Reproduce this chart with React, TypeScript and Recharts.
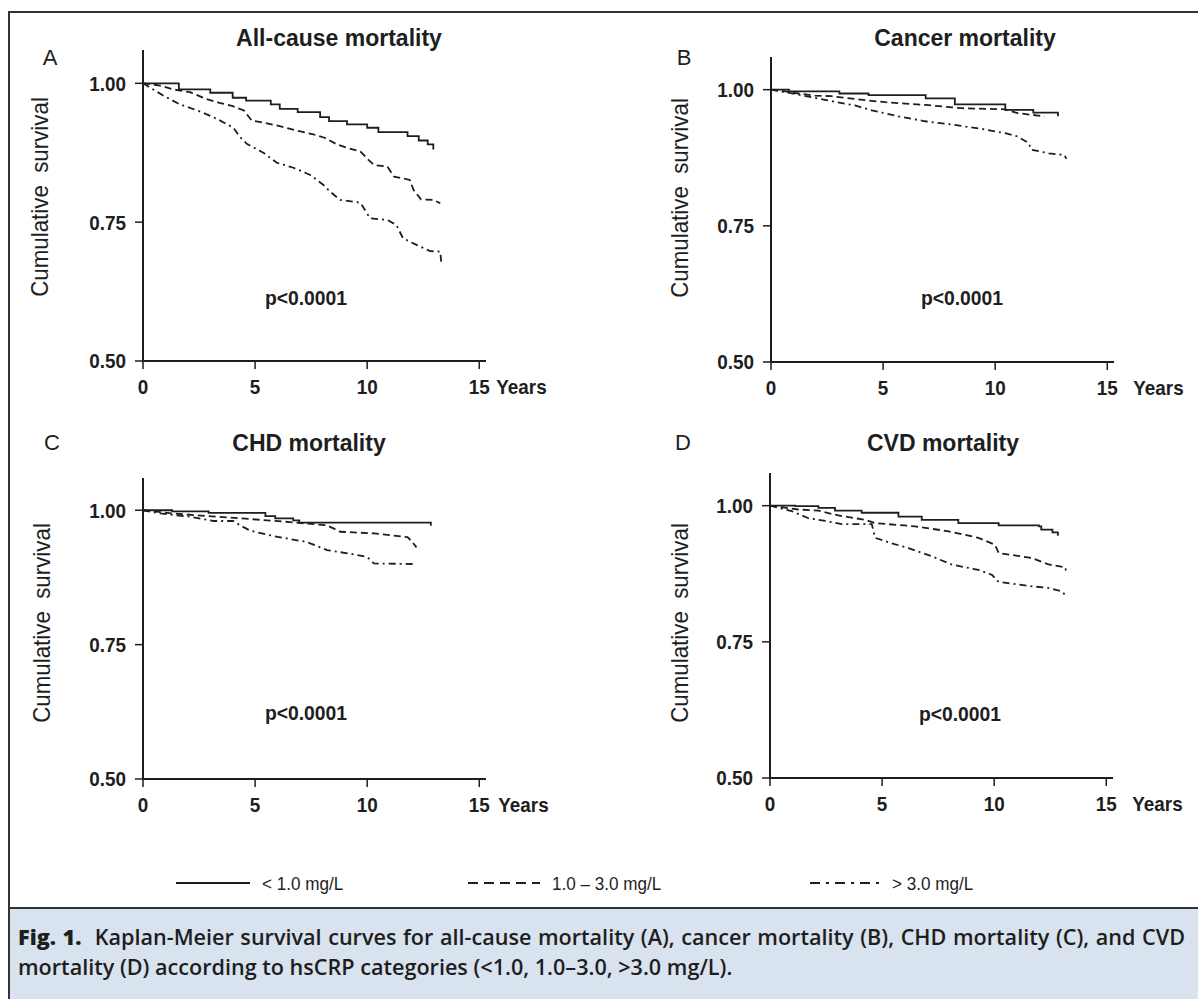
import React from 'react';
import { LineChart, Line, XAxis, YAxis } from 'recharts';

type Pair = [number, number];

// survival estimates, [years, cumulative survival]
const allCauseLow: Pair[] = [[0, 1.0], [1.6, 0.989], [3.0, 0.983], [4.0, 0.974], [4.6, 0.969], [5.7, 0.962], [6.1, 0.954], [6.9, 0.948], [7.9, 0.939], [8.3, 0.932], [9.1, 0.926], [10.0, 0.92], [10.5, 0.912], [11.8, 0.905], [12.3, 0.897], [12.7, 0.89], [12.95, 0.881]];
const allCauseMid: Pair[] = [[0, 1.0], [0.76, 0.996], [1.35, 0.989], [2.1, 0.984], [2.8, 0.972], [3.4, 0.965], [4.0, 0.959], [4.5, 0.951], [4.85, 0.933], [5.4, 0.929], [6.1, 0.923], [6.86, 0.915], [7.6, 0.908], [8.1, 0.902], [8.65, 0.89], [9.1, 0.884], [9.7, 0.877], [10.06, 0.862], [10.3, 0.853], [10.9, 0.85], [11.2, 0.832], [11.9, 0.826], [12.07, 0.808], [12.4, 0.791], [12.96, 0.79], [13.26, 0.784]];
const allCauseHigh: Pair[] = [[0, 1.0], [0.9, 0.978], [1.65, 0.962], [2.5, 0.95], [3.3, 0.936], [4.03, 0.92], [4.33, 0.903], [4.63, 0.891], [5.37, 0.875], [5.97, 0.857], [6.71, 0.848], [7.46, 0.835], [8.05, 0.817], [8.35, 0.805], [8.79, 0.79], [9.7, 0.785], [10.13, 0.757], [10.9, 0.754], [11.3, 0.745], [11.6, 0.721], [12.2, 0.709], [12.8, 0.698], [13.26, 0.697], [13.3, 0.679]];

const cancerLow: Pair[] = [[0, 1.0], [0.8, 0.997], [3.05, 0.993], [4.35, 0.99], [6.9, 0.984], [8.2, 0.973], [10.45, 0.963], [11.7, 0.958], [12.8, 0.951]];
const cancerMid: Pair[] = [[0, 1.0], [0.63, 0.997], [1.22, 0.993], [1.96, 0.989], [2.7, 0.988], [4.35, 0.98], [5.1, 0.977], [6.9, 0.972], [8.5, 0.966], [10.45, 0.964], [11.0, 0.957], [12.2, 0.951]];
const cancerHigh: Pair[] = [[0, 1.0], [1.2, 0.991], [2.7, 0.979], [3.75, 0.971], [4.5, 0.962], [5.7, 0.951], [6.87, 0.942], [8.06, 0.936], [9.4, 0.928], [10.45, 0.92], [11.0, 0.914], [11.5, 0.902], [11.6, 0.89], [12.4, 0.883], [13.1, 0.88], [13.17, 0.873]];

const chdLow: Pair[] = [[0, 1.0], [1.3, 0.998], [2.93, 0.995], [5.46, 0.989], [5.9, 0.985], [6.7, 0.981], [6.97, 0.977], [12.2, 0.977], [12.84, 0.971]];
const chdMid: Pair[] = [[0, 1.0], [1.35, 0.994], [2.9, 0.989], [4.35, 0.985], [6.56, 0.978], [8.2, 0.972], [8.8, 0.96], [10.3, 0.957], [11.8, 0.95], [11.95, 0.944], [12.2, 0.931]];
const chdHigh: Pair[] = [[0, 1.0], [0.76, 0.994], [2.1, 0.988], [3.14, 0.98], [4.03, 0.98], [4.33, 0.972], [4.78, 0.962], [5.82, 0.952], [7.3, 0.941], [8.2, 0.926], [9.4, 0.918], [10.0, 0.913], [10.3, 0.901], [12.07, 0.9]];

const cvdLow: Pair[] = [[0, 1.0], [1.12, 0.999], [2.16, 0.996], [2.9, 0.991], [4.09, 0.987], [5.73, 0.98], [6.77, 0.974], [8.4, 0.968], [10.2, 0.964], [12.0, 0.962], [12.1, 0.956], [12.6, 0.951], [12.84, 0.945]];
const cvdMid: Pair[] = [[0, 1.0], [1.26, 0.993], [2.16, 0.991], [3.05, 0.982], [4.24, 0.974], [4.69, 0.968], [6.47, 0.962], [7.96, 0.953], [9.3, 0.941], [10.04, 0.928], [10.2, 0.913], [11.68, 0.904], [12.43, 0.892], [13.17, 0.887], [13.2, 0.881]];
const cvdHigh: Pair[] = [[0, 1.0], [0.97, 0.99], [1.71, 0.977], [2.46, 0.972], [3.2, 0.966], [4.54, 0.966], [4.69, 0.941], [5.43, 0.931], [6.18, 0.922], [7.22, 0.907], [8.1, 0.892], [9.3, 0.882], [9.9, 0.873], [10.2, 0.86], [11.68, 0.852], [12.4, 0.849], [13.0, 0.843], [13.25, 0.833]];

const xTicks = [0, 5, 10, 15];
const yTicks = [0.5, 0.75, 1.0];
const groupLabels = ['< 1.0 mg/L', '1.0 – 3.0 mg/L', '> 3.0 mg/L'];

// no narrow fonts installed, so Arial-metric text squeezed horizontally
const SANS = "'Liberation Sans', Arial, sans-serif";
const CAPTION = "'Open Sans', 'DejaVu Sans Condensed', sans-serif";
const INK = '#1e1e1e';
const DASH = '7 4';
const DASHDOT = '7 4 2 4';
const SQUEEZE = 0.9;

const toPts = (arr: Pair[]) => arr.map(([t, s]) => ({ t, s }));

const PLOT_W = 343;
const Y_W = 60;
const RIGHT = 90;

interface PanelProps {
  letter: string;
  title: string;
  low: Pair[];
  mid: Pair[];
  high: Pair[];
  plotLeft: number;
  plotTop: number;
  plotH: number;
  titlePos: [number, number];
  letterPos: [number, number];
  yLabelPos: [number, number];
  pPos: [number, number];
  yearsDx: number;
}

const centered = (x: number, y: number): React.CSSProperties => ({
  position: 'absolute',
  left: x,
  top: y,
  transform: 'translate(-50%, -50%)',
  whiteSpace: 'nowrap',
  lineHeight: 1,
  color: INK,
});

const tickText = { fill: INK, fontFamily: SANS, fontWeight: 'bold' as const, fontSize: 21 };

function YTick(props: any) {
  const { x, y, payload } = props;
  return (
    <text transform={`translate(${x},${y}) scale(${SQUEEZE},1)`} dy="0.355em" textAnchor="end" {...tickText}>
      {Number(payload.value).toFixed(2)}
    </text>
  );
}

function Panel(p: PanelProps) {
  const XTick = (props: any) => {
    const { x, y, payload } = props;
    return (
      <g>
        <text transform={`translate(${x},${y}) scale(${SQUEEZE},1)`} dy="0.71em" textAnchor="middle" {...tickText}>
          {payload.value}
        </text>
        {payload.value === 15 && (
          <text transform={`translate(${x + p.yearsDx},${y}) scale(${SQUEEZE},1)`} dy="0.71em" textAnchor="start" {...tickText}>
            Years
          </text>
        )}
      </g>
    );
  };

  return (
    <>
      <div style={{ ...centered(p.titlePos[0], p.titlePos[1]), fontFamily: SANS, fontWeight: 'bold', fontSize: 23 }}>{p.title}</div>
      <div style={{ ...centered(p.letterPos[0], p.letterPos[1]), fontFamily: SANS, fontSize: 22 }}>{p.letter}</div>
      <div style={{ ...centered(p.yLabelPos[0], p.yLabelPos[1]), transform: 'translate(-50%, -50%) rotate(-90deg) scaleX(0.93)', fontFamily: SANS, fontSize: 24 }}>
        Cumulative&nbsp; survival
      </div>
      <div style={{ ...centered(p.pPos[0], p.pPos[1]), transform: 'translate(-50%, -50%) scaleX(0.92)', fontFamily: SANS, fontWeight: 'bold', fontSize: 21 }}>p&lt;0.0001</div>
      <div style={{ position: 'absolute', left: p.plotLeft - Y_W, top: p.plotTop - 5 }}>
        <LineChart width={Y_W + PLOT_W + RIGHT} height={5 + p.plotH + 45} margin={{ top: 5, right: RIGHT, bottom: 0, left: 0 }}>
          <XAxis
            type="number"
            dataKey="t"
            domain={[0, 15.3]}
            ticks={xTicks}
            allowDataOverflow
            height={45}
            axisLine={{ stroke: INK, strokeWidth: 2 }}
            tickLine={{ stroke: INK, strokeWidth: 1.5 }}
            tickSize={8}
            tickMargin={10}
            tick={XTick}
          />
          <YAxis
            type="number"
            domain={[0.5, 1.06]}
            ticks={yTicks}
            allowDataOverflow
            width={Y_W}
            axisLine={{ stroke: INK, strokeWidth: 2 }}
            tickLine={{ stroke: INK, strokeWidth: 1.5 }}
            tickSize={8}
            tickMargin={9}
            tick={YTick}
          />
          <Line data={toPts(p.low)} dataKey="s" type="stepAfter" stroke={INK} strokeWidth={1.8} dot={false} isAnimationActive={false} />
          <Line data={toPts(p.mid)} dataKey="s" type="linear" stroke={INK} strokeWidth={1.8} strokeDasharray={DASH} dot={false} isAnimationActive={false} />
          <Line data={toPts(p.high)} dataKey="s" type="linear" stroke={INK} strokeWidth={1.8} strokeDasharray={DASHDOT} dot={false} isAnimationActive={false} />
        </LineChart>
      </div>
    </>
  );
}

function LegendRow() {
  const items = [
    { x1: 176, x2: 250, dash: undefined as string | undefined, label: groupLabels[0] },
    { x1: 468, x2: 540, dash: '10 6', label: groupLabels[1] },
    { x1: 810, x2: 880, dash: '10 6 3 6', label: groupLabels[2] },
  ];
  return (
    <>
      <svg style={{ position: 'absolute', left: 0, top: 868 }} width={1198} height={30}>
        {items.map((it) => (
          <line key={it.label} x1={it.x1} x2={it.x2} y1={15} y2={15} stroke={INK} strokeWidth={2.2} strokeDasharray={it.dash} />
        ))}
      </svg>
      {items.map((it) => (
        <div
          key={it.label}
          style={{
            position: 'absolute',
            left: it.x2 + 12,
            top: 883,
            transform: 'translateY(-50%) scaleX(0.9)',
            transformOrigin: 'left center',
            whiteSpace: 'nowrap',
            lineHeight: 1,
            fontFamily: SANS,
            fontSize: 19,
            color: INK,
          }}
        >
          {it.label}
        </div>
      ))}
    </>
  );
}

export default function App() {
  return (
    <div style={{ position: 'absolute', left: 0, top: 0, width: 1198, height: 999, overflow: 'hidden', background: '#fff' }}>
      <div style={{ position: 'absolute', left: 10, top: 907, width: 1200, height: 100, background: '#d9e2ef', borderTop: '2px solid #333' }} />
      <div style={{ position: 'absolute', left: 8, top: 11, width: 1220, height: 1020, border: '2px solid #333', boxSizing: 'border-box' }} />

      <Panel letter="A" title="All-cause mortality" low={allCauseLow} mid={allCauseMid} high={allCauseHigh}
        plotLeft={143} plotTop={50} plotH={311} titlePos={[339, 38]} letterPos={[50, 58]} yLabelPos={[40, 197]} pPos={[306, 297]} yearsDx={17} />
      <Panel letter="B" title="Cancer mortality" low={cancerLow} mid={cancerMid} high={cancerHigh}
        plotLeft={771} plotTop={57} plotH={305} titlePos={[965, 38]} letterPos={[684, 58]} yLabelPos={[680, 198]} pPos={[962, 297]} yearsDx={26} />
      <Panel letter="C" title="CHD mortality" low={chdLow} mid={chdMid} high={chdHigh}
        plotLeft={143} plotTop={478} plotH={301} titlePos={[309, 443]} letterPos={[52, 443]} yLabelPos={[42, 623]} pPos={[306, 712]} yearsDx={19} />
      <Panel letter="D" title="CVD mortality" low={cvdLow} mid={cvdMid} high={cvdHigh}
        plotLeft={770} plotTop={473} plotH={305} titlePos={[943, 443]} letterPos={[683, 443]} yLabelPos={[680, 623]} pPos={[960, 713]} yearsDx={26} />

      <LegendRow />

      <div style={{ position: 'absolute', left: 18, top: 922, width: 1167, fontFamily: CAPTION, fontWeight: 600, fontSize: 21.6, lineHeight: '30px', color: INK }}>
        <div style={{ textAlign: 'justify', textAlignLast: 'justify', whiteSpace: 'nowrap' }}>
          <span style={{ fontWeight: 800 }}>Fig. 1.</span>&nbsp; Kaplan-Meier survival curves for all-cause mortality (A), cancer mortality (B), CHD mortality (C), and CVD
        </div>
        <div>mortality (D) according to hsCRP categories (&lt;1.0, 1.0–3.0, &gt;3.0 mg/L).</div>
      </div>
    </div>
  );
}
